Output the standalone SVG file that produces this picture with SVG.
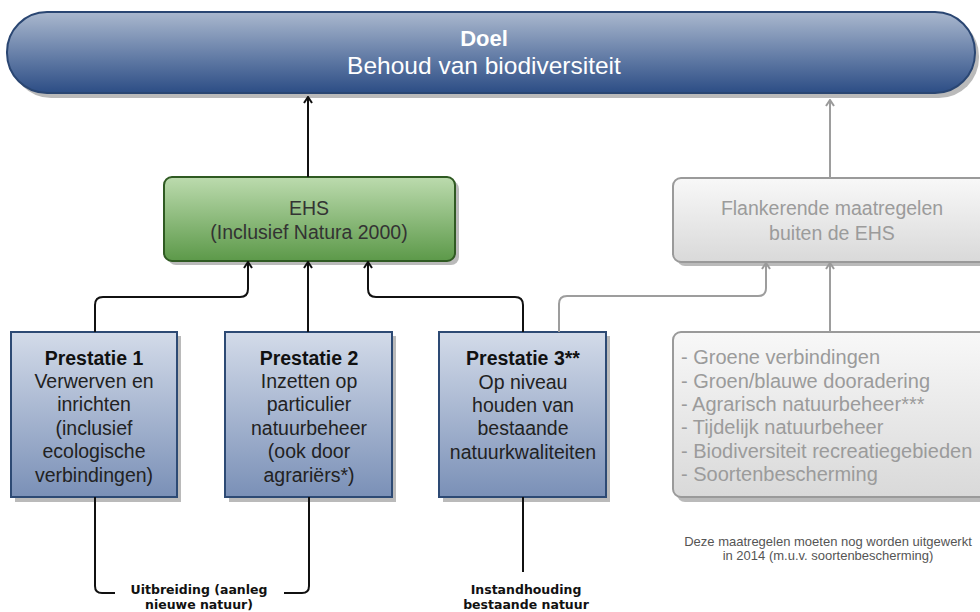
<svg xmlns="http://www.w3.org/2000/svg" width="980" height="612" viewBox="0 0 980 612">
<defs>
<linearGradient id="gDoel" x1="0" y1="0" x2="0" y2="1"><stop offset="0" stop-color="#aab8ce"/><stop offset="0.5" stop-color="#6a82aa"/><stop offset="1" stop-color="#2c4d85"/></linearGradient>
<linearGradient id="gEhs" x1="0" y1="0" x2="0" y2="1"><stop offset="0" stop-color="#bcdbae"/><stop offset="1" stop-color="#5c9949"/></linearGradient>
<linearGradient id="gPre" x1="0" y1="0" x2="0" y2="1"><stop offset="0" stop-color="#d3dbe9"/><stop offset="1" stop-color="#7a90b7"/></linearGradient>
<linearGradient id="gGray" x1="0" y1="0" x2="0" y2="1"><stop offset="0" stop-color="#f8f8f8"/><stop offset="1" stop-color="#d9d9d9"/></linearGradient>
<marker id="aB" viewBox="0 0 10 10" refX="9" refY="5" markerWidth="10" markerHeight="10" markerUnits="userSpaceOnUse" orient="auto"><path d="M3,1 L9,5 L3,9" fill="none" stroke="#111" stroke-width="2"/></marker>
<marker id="aG" viewBox="0 0 10 10" refX="9" refY="5" markerWidth="10" markerHeight="10" markerUnits="userSpaceOnUse" orient="auto"><path d="M3,1 L9,5 L3,9" fill="none" stroke="#9a9a9a" stroke-width="2"/></marker>
</defs>
<style>
text{font-family:"Liberation Sans",Arial,sans-serif;text-anchor:middle}
.shadow{fill:#a9a9a9;opacity:0.8}
.pre{fill:url(#gPre);stroke:#2d4a74;stroke-width:2}
.pt{font-size:19.5px;fill:#222}
.pb{font-weight:bold;fill:#111}
.gbox{fill:url(#gGray);stroke:#9a9a9a;stroke-width:2}
.gt{font-size:19.5px;fill:#9b9b9b}
.cb{fill:none;stroke:#111;stroke-width:2}
.cg{fill:none;stroke:#9d9d9d;stroke-width:2}
.lbl{font-family:"DejaVu Sans",Verdana,sans-serif;font-weight:bold;font-size:12.5px;fill:#111}
</style>

<g id="doel">
<rect class="shadow" x="11" y="16" width="968" height="82" rx="40"/>
<rect x="7" y="12" width="968" height="81" rx="40" fill="url(#gDoel)" stroke="#2a4672" stroke-width="2"/>
<text x="484" y="46" font-size="22px" font-weight="bold" fill="#fff">Doel</text>
<text x="484" y="74" font-size="24.5px" fill="#fff">Behoud van biodiversiteit</text>
</g>

<g id="ehs">
<rect class="shadow" x="168" y="181" width="291" height="84" rx="8"/>
<rect x="164" y="177" width="291" height="84" rx="8" fill="url(#gEhs)" stroke="#2f5a22" stroke-width="2"/>
<text x="309" y="215" font-size="19.5px" fill="#333">EHS</text>
<text x="309" y="239" font-size="19.5px" fill="#333">(Inclusief Natura 2000)</text>
</g>

<g id="flankerende">
<rect class="shadow" x="677" y="182" width="317" height="84" rx="8"/>
<rect class="gbox" x="673" y="178" width="317" height="84" rx="8"/>
<text class="gt" x="832" y="215">Flankerende maatregelen</text>
<text class="gt" x="832" y="240">buiten de EHS</text>
</g>

<g id="prestatie1">
<rect class="shadow" x="15" y="336" width="166" height="166"/>
<rect class="pre" x="11" y="332" width="166" height="165"/>
<text class="pt" x="94"><tspan class="pb" x="94" y="365">Prestatie 1</tspan><tspan x="94" y="388">Verwerven en</tspan><tspan x="94" y="411">inrichten</tspan><tspan x="94" y="435">(inclusief</tspan><tspan x="94" y="458">ecologische</tspan><tspan x="94" y="482">verbindingen)</tspan></text>
</g>

<g id="prestatie2">
<rect class="shadow" x="229" y="336" width="167" height="166"/>
<rect class="pre" x="225" y="332" width="167" height="165"/>
<text class="pt" x="309"><tspan class="pb" x="309" y="365">Prestatie 2</tspan><tspan x="309" y="388">Inzetten op</tspan><tspan x="309" y="411">particulier</tspan><tspan x="309" y="435">natuurbeheer</tspan><tspan x="309" y="458">(ook door</tspan><tspan x="309" y="482">agrariërs*)</tspan></text>
</g>

<g id="prestatie3">
<rect class="shadow" x="443" y="336" width="167" height="166"/>
<rect class="pre" x="439" y="332" width="167" height="165"/>
<text class="pt" x="523"><tspan class="pb" x="523" y="365">Prestatie 3**</tspan><tspan x="523" y="389">Op niveau</tspan><tspan x="523" y="412">houden van</tspan><tspan x="523" y="435">bestaande</tspan><tspan x="523" y="459">natuurkwaliteiten</tspan></text>
</g>

<g id="maatregelen">
<rect class="shadow" x="677" y="336" width="317" height="166" rx="8"/>
<rect class="gbox" x="673" y="332" width="317" height="165" rx="8"/>
<text class="gt" style="text-anchor:start;font-size:20px"><tspan x="681" y="364">- Groene verbindingen</tspan><tspan x="681" y="388">- Groen/blauwe dooradering</tspan><tspan x="681" y="411">- Agrarisch natuurbeheer***</tspan><tspan x="681" y="434">- Tijdelijk natuurbeheer</tspan><tspan x="681" y="458">- Biodiversiteit recreatiegebieden</tspan><tspan x="681" y="481">- Soortenbescherming</tspan></text>
</g>

<g id="noot">
<text x="828" y="546" font-size="13px" fill="#555">Deze maatregelen moeten nog worden uitgewerkt</text>
<text x="828" y="560" font-size="13px" fill="#555">in 2014 (m.u.v. soortenbescherming)</text>
</g>

<g id="label-uitbreiding">
<text class="lbl" x="199" y="594">Uitbreiding (aanleg</text>
<text class="lbl" x="199" y="609">nieuwe natuur)</text>
</g>

<g id="label-instandhouding">
<text class="lbl" x="526" y="594">Instandhouding</text>
<text class="lbl" x="526" y="609">bestaande natuur</text>
</g>

<g id="connectors">
<path class="cb" d="M308,177 V97" marker-end="url(#aB)"/>
<path class="cb" d="M95,332 V305 Q95,297 103,297 H240 Q248,297 248,289 V262" marker-end="url(#aB)"/>
<path class="cb" d="M308,332 V262" marker-end="url(#aB)"/>
<path class="cb" d="M523,332 V305 Q523,297 515,297 H376 Q368,297 368,289 V262" marker-end="url(#aB)"/>
<path class="cg" d="M559,332 V304 Q559,296 567,296 H758 Q766,296 766,288 V263" marker-end="url(#aG)"/>
<path class="cg" d="M830,332 V263" marker-end="url(#aG)"/>
<path class="cg" d="M830,178 V100" marker-end="url(#aG)"/>
<path class="cb" d="M95,497 V586 Q95,593 102,593 H115"/>
<path class="cb" d="M309,497 V586 Q309,593 302,593 H284"/>
<path class="cb" d="M523,497 V572"/>
</g>
</svg>
